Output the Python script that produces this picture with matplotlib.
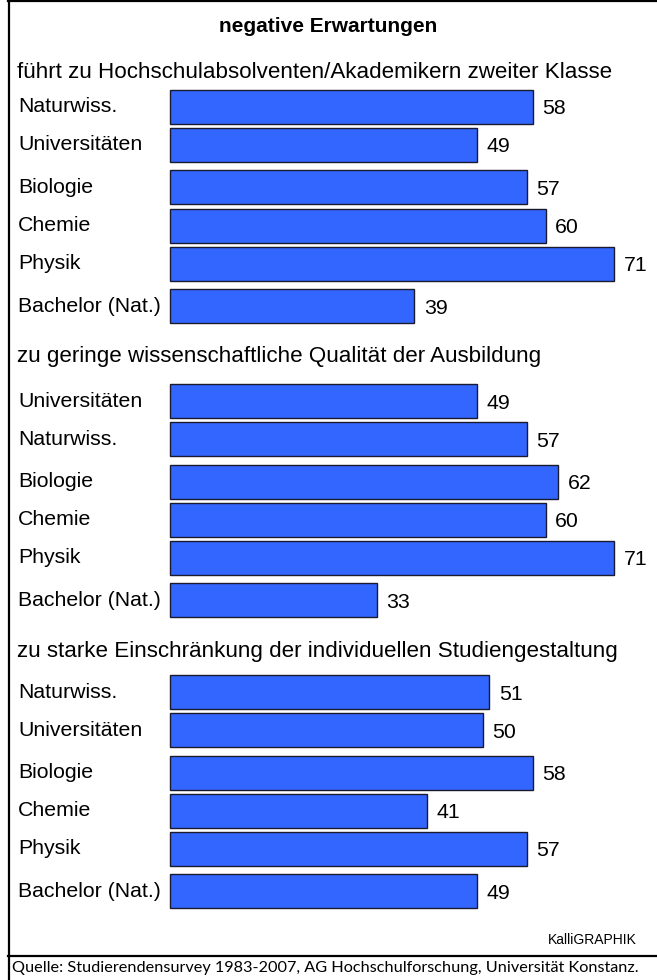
import numpy as np
import matplotlib
matplotlib.use('Agg')
import matplotlib.pyplot as plt
from matplotlib.lines import Line2D

# data
title = 'negative Erwartungen'
groups = ['führt zu Hochschulabsolventen/Akademikern zweiter Klasse',
          'zu geringe wissenschaftliche Qualität der Ausbildung',
          'zu starke Einschränkung der individuellen Studiengestaltung']
labels_1 = ['Naturwiss.', 'Universitäten', 'Biologie', 'Chemie', 'Physik', 'Bachelor (Nat.)']
labels_2 = ['Universitäten', 'Naturwiss.', 'Biologie', 'Chemie', 'Physik', 'Bachelor (Nat.)']
labels_3 = ['Naturwiss.', 'Universitäten', 'Biologie', 'Chemie', 'Physik', 'Bachelor (Nat.)']
values_1 = [58, 49, 57, 60, 71, 39]
values_2 = [49, 57, 62, 60, 71, 33]
values_3 = [51, 50, 58, 41, 57, 49]
source = 'Quelle: Studierendensurvey 1983-2007, AG Hochschulforschung, Universität Konstanz.'
credit = 'KalliGRAPHIK'

W, H = 657, 980
plt.rcParams['font.family'] = ['Liberation Sans', 'DejaVu Sans']

fig = plt.figure(figsize=(W / 100, H / 100), dpi=100)
ax = fig.add_axes([0, 0, 1, 1])
ppu = 6.26          # pixels per percent
x0 = 170            # pixel where bars start
ax.set_xlim(-x0 / ppu, (W - x0) / ppu)
ax.set_ylim(H, 0)
ax.axis('off')

def px(x):
    return (x - x0) / ppu

# vertical layout (pixels from top)
group_top = [107, 401, 692]
header_y = [72, 356, 651]
slot = np.array([0, 38, 80.5, 118.5, 156.5, 199])
bar_h = 34
fs = 15.3

ax.text(px(328), 27, title, ha='center', va='center', fontsize=15, fontweight='bold')

for g, (lab, val) in enumerate([(labels_1, values_1), (labels_2, values_2), (labels_3, values_3)]):
    ys = group_top[g] + slot
    ax.text(px(17), header_y[g], groups[g], ha='left', va='center', fontsize=16.1)
    ax.barh(ys, val, height=bar_h, left=0, color='#3366ff', edgecolor='#1a1a2e', linewidth=1.0)
    for y, v, l in zip(ys, val, lab):
        ax.text(px(18), y, l, ha='left', va='center', fontsize=fs)
        ax.text(v + 9.5 / ppu, y + 2, str(v), ha='left', va='center', fontsize=fs)

ax.text(px(637), 940, credit, ha='right', va='center', fontsize=10)
ax.text(px(12), 968, source, ha='left', va='center', fontsize=11.7,
        family=['Lato', 'DejaVu Sans'])

# frame lines
lw = 1.6
fig.add_artist(Line2D([8 / W, 1], [1 - 1.2 / H, 1 - 1.2 / H], color='black', lw=lw))
fig.add_artist(Line2D([8.5 / W, 8.5 / W], [0, 1], color='black', lw=lw))
fig.add_artist(Line2D([8 / W, 1], [1 - 956 / H, 1 - 956 / H], color='black', lw=lw))

fig.savefig('out.png', dpi=100)
